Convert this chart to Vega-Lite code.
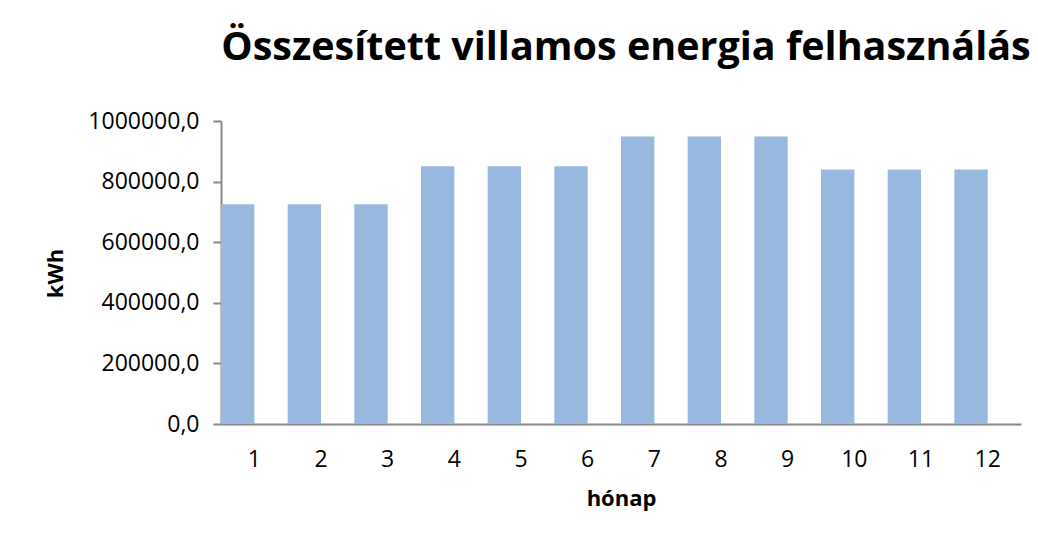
{
  "$schema": "https://vega.github.io/schema/vega-lite/v6.json",
  "autosize": {"type": "none"},
  "width": 800,
  "height": 303,
  "padding": {"left": 221, "top": 121, "right": 17, "bottom": 118},
  "background": "white",
  "title": {
    "text": "Összesített villamos energia felhasználás",
    "font": "Open Sans",
    "fontSize": 39.5,
    "fontWeight": "bold",
    "color": "#000000",
    "anchor": "middle",
    "dx": 5,
    "baseline": "alphabetic",
    "offset": 11
  },
  "data": {
    "values": [
      {"honap": "1", "kwh": 725000, "s": "A"},
      {"honap": "2", "kwh": 725000, "s": "A"},
      {"honap": "3", "kwh": 725000, "s": "A"},
      {"honap": "4", "kwh": 851000, "s": "A"},
      {"honap": "5", "kwh": 851000, "s": "A"},
      {"honap": "6", "kwh": 851000, "s": "A"},
      {"honap": "7", "kwh": 949000, "s": "A"},
      {"honap": "8", "kwh": 949000, "s": "A"},
      {"honap": "9", "kwh": 949000, "s": "A"},
      {"honap": "10", "kwh": 840000, "s": "A"},
      {"honap": "11", "kwh": 840000, "s": "A"},
      {"honap": "12", "kwh": 840000, "s": "A"}
    ]
  },
  "mark": {"type": "bar", "color": "#97b9e0"},
  "encoding": {
    "x": {
      "field": "honap",
      "type": "ordinal",
      "sort": null,
      "scale": {"paddingInner": 0, "paddingOuter": 0},
      "axis": {
        "title": "hónap",
        "labelAngle": 0,
        "ticks": false,
        "labelPadding": 24,
        "titlePadding": 17
      }
    },
    "xOffset": {
      "field": "s",
      "type": "nominal",
      "scale": {"domain": ["A", "B"], "paddingInner": 0, "paddingOuter": 0}
    },
    "y": {
      "field": "kwh",
      "type": "quantitative",
      "scale": {"domain": [0, 1000000], "nice": false},
      "axis": {
        "title": "kWh",
        "values": [0, 200000, 400000, 600000, 800000, 1000000],
        "labelExpr": "replace(format(datum.value, '.1f'), '.', ',')",
        "tickSize": 8,
        "labelPadding": 14,
        "titleX": -166,
        "titleY": 152,
        "titleAngle": -90,
        "titleAlign": "center",
        "titleBaseline": "middle"
      }
    }
  },
  "config": {
    "view": {"stroke": null},
    "axis": {
      "grid": false,
      "domainColor": "#878787",
      "domainWidth": 2,
      "tickColor": "#878787",
      "tickWidth": 2,
      "labelFont": "Open Sans",
      "labelFontSize": 23,
      "labelColor": "#000000",
      "titleFont": "Open Sans",
      "titleFontSize": 22,
      "titleFontWeight": "bold",
      "titleColor": "#000000"
    }
  }
}
